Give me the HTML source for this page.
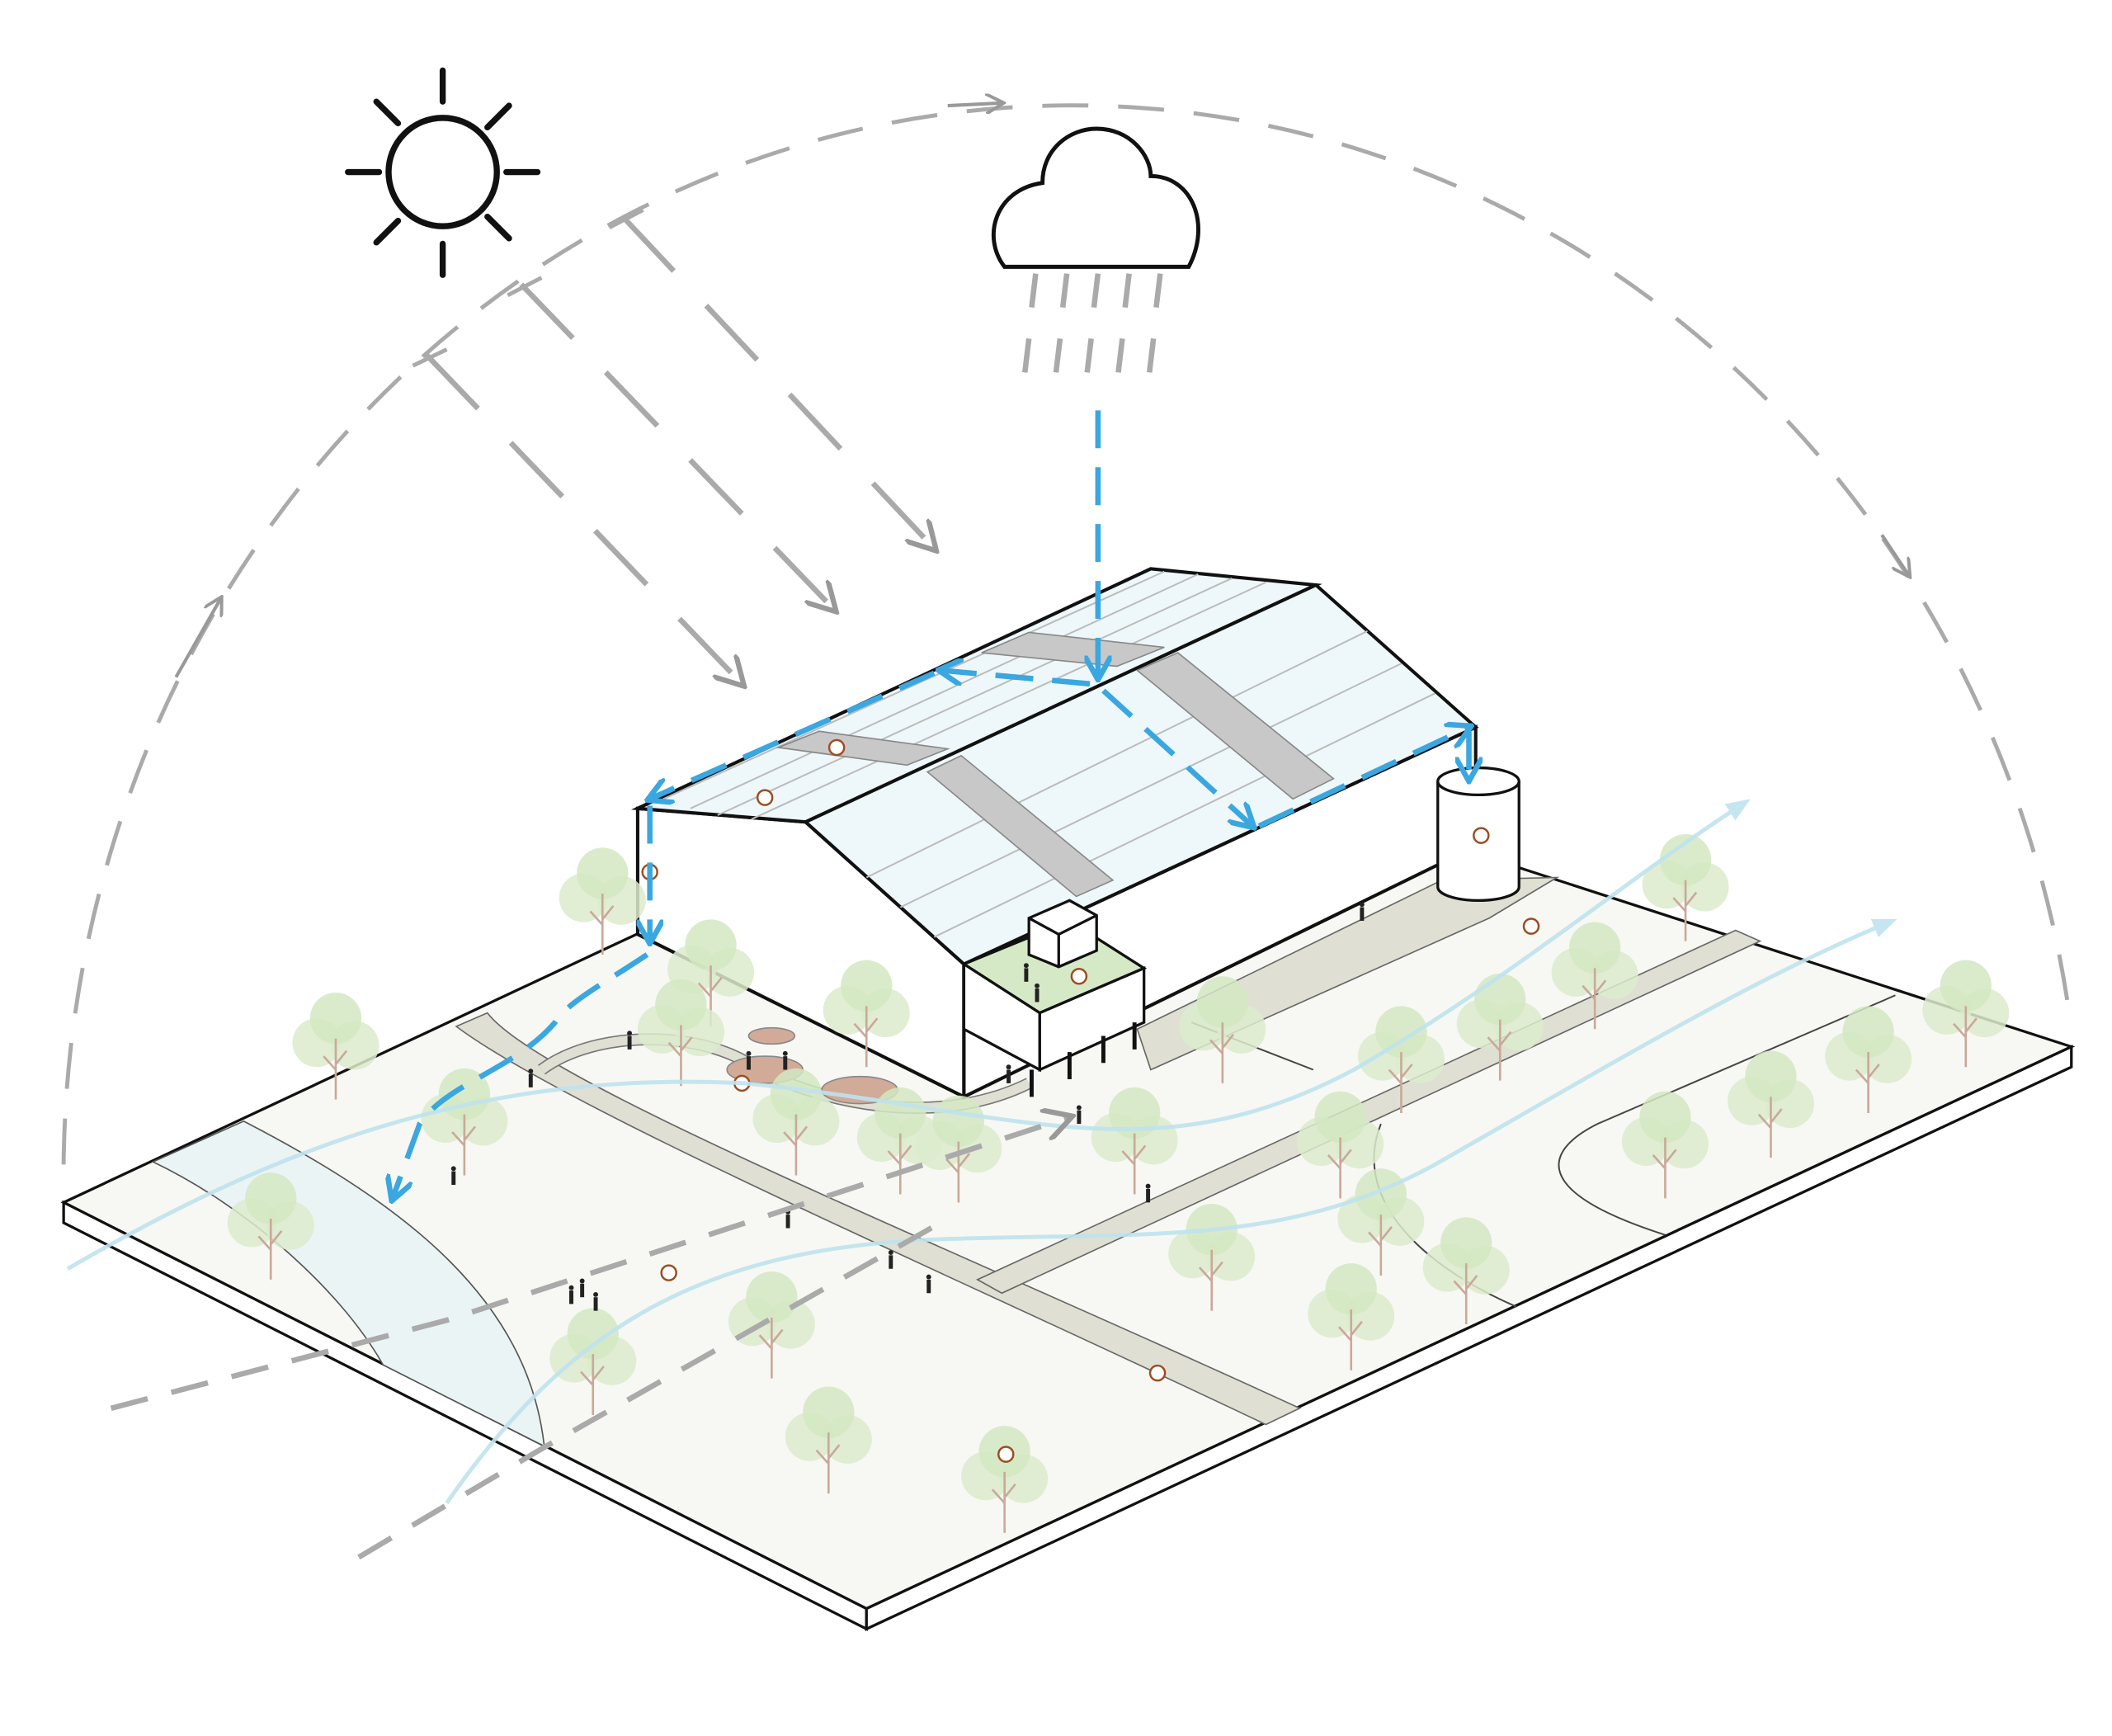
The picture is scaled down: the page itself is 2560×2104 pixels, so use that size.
<!DOCTYPE html>
<html><head><meta charset="utf-8"><style>
html,body{margin:0;padding:0;background:#fff;}
svg{display:block;}
</style></head><body>
<svg width="2560" height="2104" viewBox="0 0 1560 1282" xmlns="http://www.w3.org/2000/svg">
<defs>
<g id="t">
<circle cx="-14" cy="-42" r="18" fill="#dcebcc" opacity="0.85"/>
<circle cx="14" cy="-40" r="18" fill="#dcebcc" opacity="0.85"/>
<circle cx="0" cy="-60" r="19" fill="#d4e7c2" opacity="0.85"/>
<path d="M0 0 V-45 M0 -22 L-9 -32 M0 -26 L8 -36" stroke="#c9a99a" stroke-width="1.6" fill="none"/>
</g>
<g id="p"><rect x="-1.5" y="-10" width="3" height="10" fill="#222"/><circle cx="0" cy="-12" r="1.8" fill="#222"/></g>
<marker id="ag" viewBox="0 0 10 10" refX="8" refY="5" markerWidth="6" markerHeight="6" orient="auto"><path d="M0 0 L9 5 L0 10" fill="none" stroke="#999" stroke-width="1.6"/></marker>
<marker id="ab" viewBox="0 0 10 10" refX="8" refY="5" markerWidth="5" markerHeight="5" orient="auto"><path d="M0 0 L9 5 L0 10" fill="none" stroke="#3aa7e0" stroke-width="2"/></marker>
<marker id="al" viewBox="0 0 10 10" refX="8" refY="5" markerWidth="6" markerHeight="6" orient="auto"><path d="M0 1 L10 5 L0 9z" fill="#bfe3ee"/></marker>
</defs>

<!-- dome -->
<path d="M47 860 A745 790 0 0 1 1530 760" fill="none" stroke="#aaa" stroke-width="3" stroke-dasharray="34 22"/>
<path d="M130 500 L163 442" stroke="#999" stroke-width="2.5" marker-end="url(#ag)"/>
<path d="M700 78 L740 76" stroke="#999" stroke-width="2.5" marker-end="url(#ag)"/>
<path d="M1390 395 L1410 425" stroke="#999" stroke-width="2.5" marker-end="url(#ag)"/>

<!-- slab -->
<polygon points="47,888 640,1188 1530,773 799,536" fill="#f7f8f3" stroke="#111" stroke-width="2"/>
<polygon points="47,888 640,1188 640,1203 47,903" fill="#fff" stroke="#111" stroke-width="2"/>
<polygon points="640,1188 1530,773 1530,788 640,1203" fill="#fff" stroke="#111" stroke-width="2"/>

<!-- water -->
<path d="M113 858 L180 828 C300 890 390 960 402 1068 L283 1008 C250 950 180 890 113 858Z" fill="#eaf4f5" stroke="#555" stroke-width="1"/>
<!-- roads -->
<path d="M337 758 L360 748 C400 800 700 920 960 1040 L935 1052 C700 940 420 820 337 758Z" fill="#dfe0d3" stroke="#666" stroke-width="1"/>
<path d="M722 945 L740 955 L1300 695 L1282 687Z" fill="#dfe0d3" stroke="#666" stroke-width="1"/>
<path d="M840 760 L1065 650 L1150 648 L1100 678 L850 790Z" fill="#dfe0d3" stroke="#666" stroke-width="1"/>
<path d="M400 790 C440 760 520 760 560 790 C620 820 700 830 760 800" fill="none" stroke="#777" stroke-width="9"/>
<path d="M400 790 C440 760 520 760 560 790 C620 820 700 830 760 800" fill="none" stroke="#dfe0d3" stroke-width="7"/>
<ellipse cx="570" cy="765" rx="17" ry="6" fill="#d2aa98" stroke="#888"/>
<ellipse cx="565" cy="790" rx="28" ry="10" fill="#d2aa98" stroke="#888"/>
<ellipse cx="635" cy="805" rx="28" ry="10" fill="#d2aa98" stroke="#888"/>
<path d="M880 755 L970 790 M1020 830 C1000 880 1040 930 1120 965 M1230 912 C1130 880 1140 850 1180 830 L1400 735" fill="none" stroke="#444" stroke-width="1.2"/>

<!-- building -->
<polygon points="471,597 595,607 712,712 712,810 471,690" fill="#fff" stroke="#111" stroke-width="2.5"/>
<polygon points="712,712 1090,537 1090,625 712,810" fill="#fff" stroke="#111" stroke-width="2.5"/>
<polygon points="471,597 850,420 972,432 595,607" fill="#eef7f9" stroke="#111" stroke-width="2.5"/>
<polygon points="595,607 972,432 1090,537 712,712" fill="#eef7f9" stroke="#111" stroke-width="2.5"/>
<g stroke="#bbb" stroke-width="1.2">
<line x1="490" y1="590" x2="860" y2="422"/><line x1="510" y1="597" x2="885" y2="424"/><line x1="530" y1="602" x2="910" y2="427"/><line x1="555" y1="605" x2="935" y2="430"/>
<line x1="640" y1="648" x2="1010" y2="466"/><line x1="665" y1="670" x2="1035" y2="490"/><line x1="690" y1="692" x2="1060" y2="512"/>
</g>
<g fill="#c8c8c8" stroke="#888">
<polygon points="575,552 605,540 700,553 670,565"/><polygon points="725,482 760,467 860,478 825,492"/>
<polygon points="685,570 710,558 822,650 795,662"/><polygon points="840,495 870,482 985,575 955,590"/>
</g>
<!-- annex -->
<polygon points="712,712 790,680 845,715 768,748" fill="#d6e9c6" stroke="#111" stroke-width="2"/>
<polygon points="712,712 768,748 768,790 712,760" fill="#fff" stroke="#111" stroke-width="2"/>
<polygon points="768,748 845,715 845,755 768,790" fill="#fff" stroke="#111" stroke-width="2"/>
<polygon points="760,678 790,665 810,676 810,702 782,714 760,705" fill="#fff" stroke="#111" stroke-width="2"/>
<path d="M760 678 L782 690 L810 676 M782 690 V714" fill="none" stroke="#111" stroke-width="2"/>
<path d="M762 790 V810 M790 777 V797 M815 765 V785 M838 755 V775" stroke="#111" stroke-width="3"/>
<!-- tank -->
<path d="M1062 577 V655 A30 10 0 0 0 1122 655 V577" fill="#fff" stroke="#111" stroke-width="2"/>
<ellipse cx="1092" cy="577" rx="30" ry="10" fill="#fff" stroke="#111" stroke-width="2"/>

<!-- trees -->
<g>
<use href="#t" x="248" y="812"/><use href="#t" x="445" y="705"/><use href="#t" x="525" y="758"/><use href="#t" x="640" y="788"/><use href="#t" x="503" y="802"/><use href="#t" x="343" y="868"/><use href="#t" x="588" y="868"/><use href="#t" x="665" y="882"/><use href="#t" x="708" y="888"/><use href="#t" x="838" y="882"/><use href="#t" x="903" y="800"/><use href="#t" x="200" y="945"/><use href="#t" x="438" y="1045"/><use href="#t" x="570" y="1018"/><use href="#t" x="612" y="1103"/><use href="#t" x="742" y="1132"/><use href="#t" x="895" y="968"/><use href="#t" x="998" y="1012"/><use href="#t" x="1035" y="822"/><use href="#t" x="1108" y="798"/><use href="#t" x="1178" y="760"/><use href="#t" x="1245" y="695"/><use href="#t" x="990" y="885"/><use href="#t" x="1020" y="942"/><use href="#t" x="1083" y="978"/><use href="#t" x="1230" y="885"/><use href="#t" x="1308" y="855"/><use href="#t" x="1380" y="822"/><use href="#t" x="1452" y="788"/>
</g>
<g>
<use href="#p" x="465" y="775"/><use href="#p" x="392" y="803"/><use href="#p" x="335" y="875"/><use href="#p" x="582" y="907"/><use href="#p" x="658" y="937"/><use href="#p" x="686" y="955"/><use href="#p" x="422" y="963"/><use href="#p" x="430" y="958"/><use href="#p" x="440" y="968"/><use href="#p" x="797" y="830"/><use href="#p" x="848" y="888"/><use href="#p" x="745" y="800"/><use href="#p" x="1006" y="680"/><use href="#p" x="758" y="725"/><use href="#p" x="766" y="740"/><use href="#p" x="553" y="790"/><use href="#p" x="580" y="790"/>
</g>
<g fill="#fff" stroke="#9b4d20" stroke-width="1.5">
<circle cx="618" cy="552" r="5.5"/><circle cx="565" cy="589" r="5.5"/><circle cx="480" cy="644" r="5.5"/><circle cx="797" cy="721" r="5.5"/><circle cx="1094" cy="617" r="5.5"/><circle cx="1131" cy="684" r="5.5"/><circle cx="548" cy="800" r="5.5"/><circle cx="494" cy="940" r="5.5"/><circle cx="855" cy="1014" r="5.5"/><circle cx="743" cy="1074" r="5.5"/>
</g>

<!-- wind -->
<g fill="none" stroke="#bfe3ee" stroke-width="3" opacity="0.9">
<path d="M50 937 C200 850 350 790 550 800 C750 820 850 870 1000 790 C1120 720 1200 650 1290 592" marker-end="url(#al)"/>
<path d="M330 1110 C420 980 520 920 700 915 C850 910 950 920 1060 860 C1200 780 1300 720 1398 680" marker-end="url(#al)"/>
</g>
<!-- ground wind dashed -->
<g fill="none" stroke="#aaa" stroke-width="4" stroke-dasharray="28 18">
<path d="M82 1040 L330 975 L790 825" marker-end="url(#ag)"/>
<path d="M265 1150 L400 1070 L700 900"/>
</g>

<!-- sun -->
<circle cx="327" cy="127" r="40" fill="none" stroke="#111" stroke-width="4.5"/>
<g stroke="#111" stroke-width="4.5" stroke-linecap="round">
<line x1="327" y1="52" x2="327" y2="75"/><line x1="327" y1="180" x2="327" y2="203"/><line x1="257" y1="127" x2="280" y2="127"/><line x1="374" y1="127" x2="397" y2="127"/>
<line x1="278" y1="75" x2="294" y2="91"/><line x1="360" y1="160" x2="376" y2="176"/><line x1="278" y1="179" x2="294" y2="163"/><line x1="360" y1="94" x2="376" y2="78"/>
</g>
<!-- sun rays -->
<g fill="none" stroke="#aaa" stroke-width="4" stroke-dasharray="55 35">
<path d="M315 262 L548 505" marker-end="url(#ag)"/>
<path d="M385 210 L616 450" marker-end="url(#ag)"/>
<path d="M460 160 L690 405" marker-end="url(#ag)"/>
</g>
<g stroke="#aaa" stroke-width="3"><line x1="305" y1="270" x2="330" y2="258"/><line x1="375" y1="218" x2="400" y2="205"/><line x1="450" y1="168" x2="475" y2="155"/></g>

<!-- cloud -->
<path d="M742 197 C725 175 735 140 770 135 C770 110 790 95 810 95 C835 95 850 115 850 130 C880 130 895 165 878 197 Z" fill="#fff" stroke="#111" stroke-width="3"/>
<g stroke="#aaa" stroke-width="4"><path d="M765 202 l-3 25 M788 202 l-3 25 M811 202 l-3 25 M834 202 l-3 25 M857 202 l-3 25 M760 250 l-3 25 M783 250 l-3 25 M806 250 l-3 25 M829 250 l-3 25 M852 250 l-3 25"/></g>

<!-- water flow -->
<g fill="none" stroke="#3aa7e0" stroke-width="4" stroke-dasharray="28 14">
<path d="M811 303 V500" marker-end="url(#ab)"/>
<path d="M805 505 L695 495" marker-end="url(#ab)"/>
<path d="M690 497 L480 590" marker-end="url(#ab)"/>
<path d="M480 595 V695" marker-end="url(#ab)"/>
<path d="M815 510 L925 610" marker-end="url(#ab)"/>
<path d="M930 610 L1085 537" marker-end="url(#ab)"/>
<path d="M1085 540 V575" marker-end="url(#ab)"/>
<path d="M478 705 C440 730 420 740 410 755 C380 790 330 800 310 830 L290 885" marker-end="url(#ab)"/>
</g>
</svg>
</body></html>
